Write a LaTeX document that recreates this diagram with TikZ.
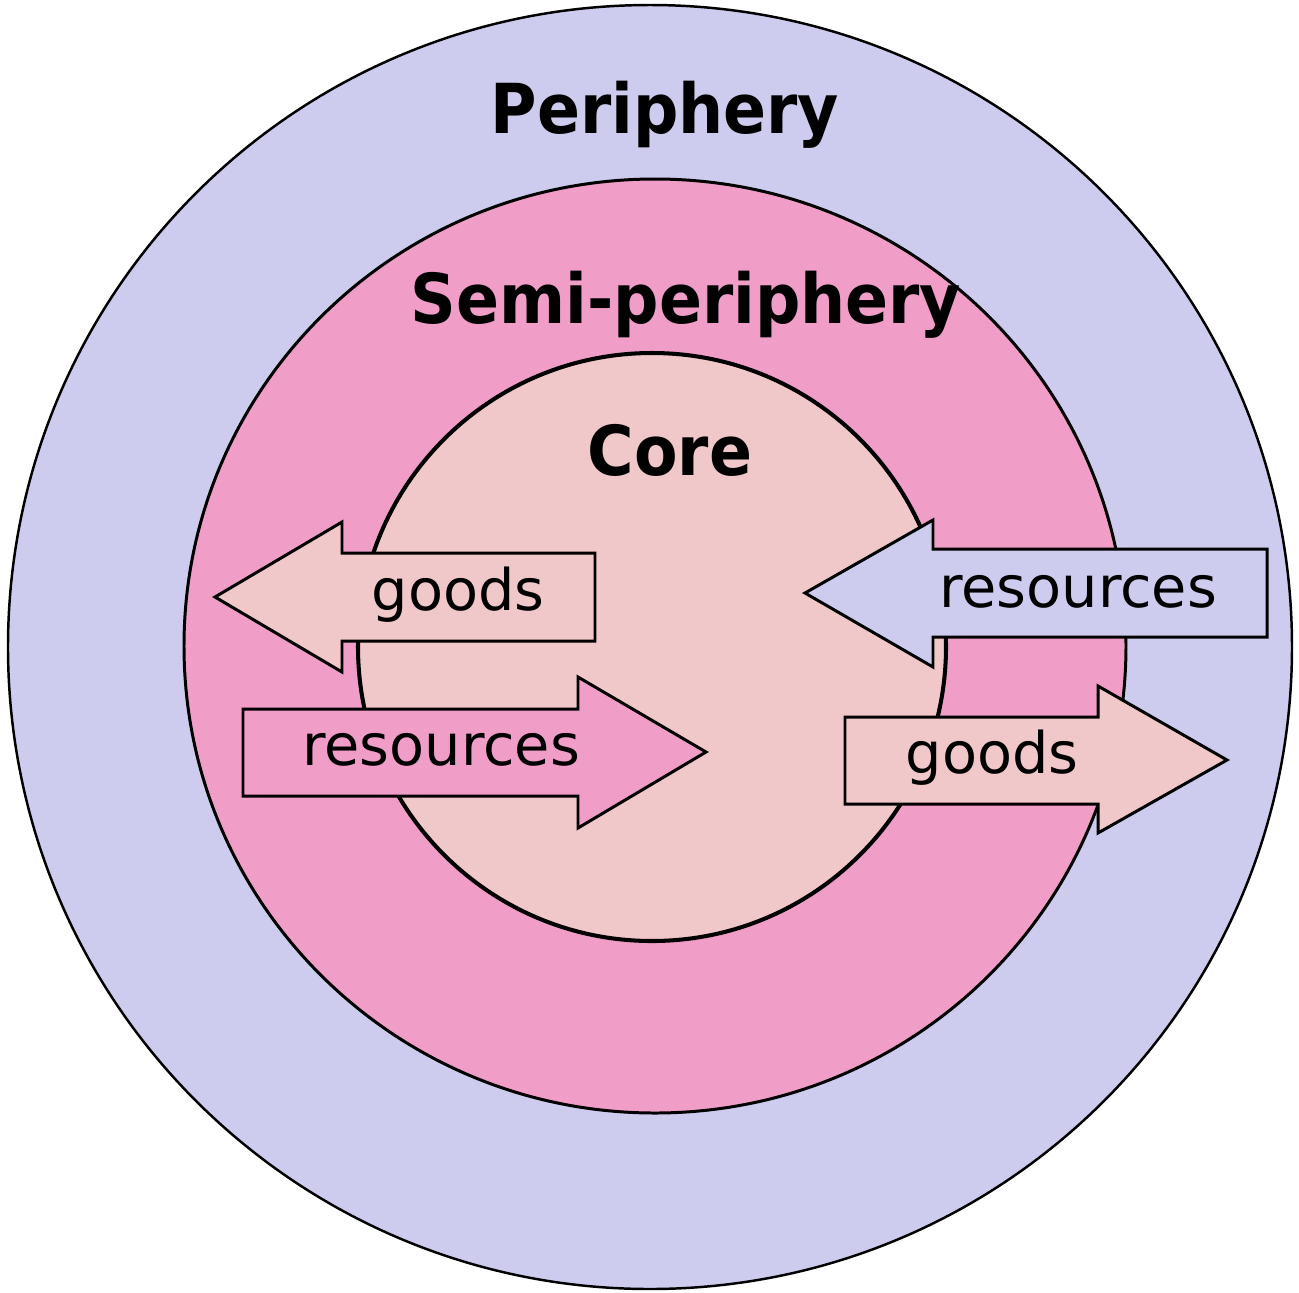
\documentclass[tikz,border=0pt]{standalone}
\usepackage{fontspec}
\setmainfont{DejaVu Sans}
\newfontfamily\zonefont[FakeStretch=0.92]{DejaVu Sans}
\usepackage{tikz}
\definecolor{periphfill}{RGB}{206,204,238}
\definecolor{semifill}{RGB}{240,158,200}
\definecolor{corefill}{RGB}{241,200,202}

\begin{document}
\begin{tikzpicture}[x=0.01cm, y=-0.01cm,
    zonelabel/.style={anchor=base, inner sep=0pt, font=\zonefont\fontsize{19.6}{22}\selectfont\bfseries},
    flowlabel/.style={anchor=base, inner sep=0pt, font=\fontsize{16.3}{18}\selectfont},
    blockarrow/.style={draw=black, line width=0.85pt, line join=miter}]
  \useasboundingbox (0,0) rectangle (1299,1293);

  % the three zones
  \draw[fill=periphfill, line width=0.7pt] (650,647) circle (642);
  \draw[fill=semifill, line width=0.85pt] (655,646) ellipse [x radius=471, y radius=467];
  \draw[fill=corefill, line width=1.15pt] (652,647) circle (294);

  % flows
  \draw[blockarrow, fill=corefill] (215,597) -- (342,522) -- (342,553) -- (595,553) -- (595,641) -- (342,641) -- (342,672) -- cycle;
  \draw[blockarrow, fill=semifill] (243,709) -- (578,709) -- (578,677) -- (706,752) -- (578,828) -- (578,796) -- (243,796) -- cycle;
  \draw[blockarrow, fill=periphfill] (805,593) -- (933,520) -- (933,549) -- (1267,549) -- (1267,637) -- (933,637) -- (933,667) -- cycle;
  \draw[blockarrow, fill=corefill] (845,717) -- (1098,717) -- (1098,686) -- (1227,760) -- (1098,833) -- (1098,804) -- (845,804) -- cycle;

  \node[zonelabel] (periphery) at (665,133) {Periphery};
  \node[zonelabel] (semi) at (686,323) {Semi-periphery};
  \node[zonelabel] (core) at (670,475) {Core};

  \node[flowlabel] (goodsout) at (458,610) {goods};
  \node[flowlabel] (resin) at (441,765) {resources};
  \node[flowlabel] (resout) at (1078,607) {resources};
  \node[flowlabel] (goodsin) at (992,773) {goods};
\end{tikzpicture}
\end{document}
